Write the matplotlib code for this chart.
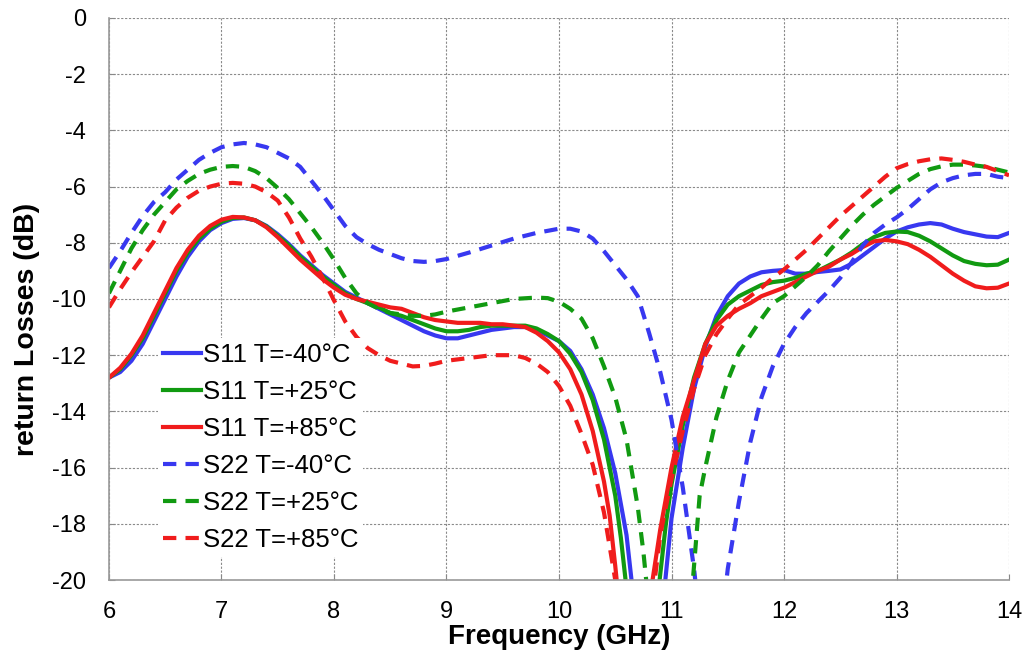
import numpy as np
import matplotlib.pyplot as plt
import matplotlib as mpl

mpl.rcParams['font.family'] = ['Liberation Sans', 'DejaVu Sans']
mpl.rcParams['axes.unicode_minus'] = False

## Data

f_s11_m40 = [6.0, 6.1, 6.2, 6.3, 6.4, 6.5, 6.6, 6.7, 6.8, 6.9, 7.0, 7.1, 7.2, 7.3, 7.4, 7.5,
             7.6, 7.7, 7.8, 7.9, 8.0, 8.1, 8.2, 8.3, 8.4, 8.5, 8.6, 8.7, 8.8, 8.9, 9.0, 9.1,
             9.2, 9.3, 9.4, 9.5, 9.6, 9.7, 9.8, 9.9, 10.0, 10.1, 10.2, 10.3, 10.4, 10.5, 10.6,
             10.65, 10.8, 10.92, 11.0, 11.1, 11.2, 11.3, 11.4, 11.5, 11.6, 11.7, 11.8, 11.9,
             12.0, 12.1, 12.2, 12.3, 12.4, 12.5, 12.6, 12.7, 12.8, 12.9, 13.0, 13.1, 13.2,
             13.3, 13.4, 13.5, 13.6, 13.7, 13.8, 13.9, 14.0]
s11_m40 = [-12.8, -12.6, -12.2, -11.6, -10.8, -10.0, -9.2, -8.5, -7.95, -7.55, -7.3, -7.15,
           -7.12, -7.2, -7.4, -7.7, -8.05, -8.45, -8.8, -9.15, -9.45, -9.75, -9.95, -10.15,
           -10.35, -10.55, -10.75, -10.95, -11.15, -11.3, -11.4, -11.4, -11.3, -11.2, -11.1,
           -11.05, -11.0, -11.0, -11.1, -11.3, -11.5, -11.85, -12.5, -13.4, -14.6, -16.2,
           -18.4, -20.2, -25.0, -21.0, -17.8, -15.3, -13.2, -11.7, -10.6, -9.9, -9.45, -9.2,
           -9.05, -9.0, -8.97, -9.1, -9.1, -9.04, -9.0, -8.95, -8.75, -8.45, -8.15, -7.85,
           -7.6, -7.45, -7.35, -7.3, -7.35, -7.5, -7.62, -7.7, -7.78, -7.8, -7.65]

f_s11_p25 = [6.0, 6.1, 6.2, 6.3, 6.4, 6.5, 6.6, 6.7, 6.8, 6.9, 7.0, 7.1, 7.2, 7.3, 7.4, 7.5,
             7.6, 7.7, 7.8, 7.9, 8.0, 8.1, 8.2, 8.3, 8.4, 8.5, 8.6, 8.7, 8.8, 8.9, 9.0, 9.1,
             9.2, 9.3, 9.4, 9.5, 9.6, 9.7, 9.8, 9.9, 10.0, 10.1, 10.2, 10.3, 10.4, 10.5, 10.55,
             10.6, 10.75, 10.88, 10.95, 11.0, 11.1, 11.2, 11.3, 11.4, 11.5, 11.6, 11.7, 11.8,
             11.9, 12.0, 12.1, 12.2, 12.3, 12.4, 12.5, 12.6, 12.7, 12.8, 12.9, 13.0, 13.1,
             13.2, 13.3, 13.4, 13.5, 13.6, 13.7, 13.8, 13.9, 14.0]
s11_p25 = [-12.8, -12.5, -12.0, -11.4, -10.6, -9.8, -9.0, -8.35, -7.85, -7.5, -7.25, -7.12,
           -7.1, -7.2, -7.42, -7.75, -8.1, -8.5, -8.85, -9.2, -9.5, -9.8, -10.0, -10.15,
           -10.3, -10.5, -10.6, -10.75, -10.9, -11.05, -11.15, -11.15, -11.1, -11.0, -10.95,
           -10.95, -10.95, -10.95, -11.05, -11.25, -11.5, -11.95, -12.6, -13.6, -15.0, -17.0,
           -18.5, -20.3, -25.0, -20.5, -18.0, -16.6, -14.5, -12.8, -11.6, -10.75, -10.2, -9.9,
           -9.7, -9.5, -9.4, -9.35, -9.25, -9.1, -9.0, -8.8, -8.6, -8.35, -8.05, -7.8, -7.65,
           -7.6, -7.62, -7.75, -7.95, -8.2, -8.45, -8.65, -8.75, -8.8, -8.78, -8.6]

f_s11_p85 = [6.0, 6.1, 6.2, 6.3, 6.4, 6.5, 6.6, 6.7, 6.8, 6.9, 7.0, 7.1, 7.2, 7.3, 7.4, 7.5,
             7.6, 7.7, 7.8, 7.9, 8.0, 8.1, 8.2, 8.3, 8.4, 8.5, 8.6, 8.7, 8.8, 8.9, 9.0, 9.1,
             9.2, 9.3, 9.4, 9.5, 9.6, 9.7, 9.8, 9.9, 10.0, 10.1, 10.2, 10.3, 10.4, 10.45, 10.5,
             10.55, 10.7, 10.82, 10.9, 11.0, 11.1, 11.2, 11.3, 11.4, 11.5, 11.6, 11.7, 11.8,
             11.9, 12.0, 12.1, 12.2, 12.3, 12.4, 12.5, 12.6, 12.7, 12.8, 12.9, 13.0, 13.1,
             13.2, 13.3, 13.4, 13.5, 13.6, 13.7, 13.8, 13.9, 14.0]
s11_p85 = [-12.8, -12.45, -11.95, -11.3, -10.5, -9.7, -8.9, -8.25, -7.75, -7.4, -7.18, -7.08,
           -7.1, -7.2, -7.45, -7.8, -8.2, -8.6, -8.95, -9.3, -9.6, -9.85, -10.0, -10.1, -10.2,
           -10.3, -10.35, -10.5, -10.65, -10.75, -10.8, -10.85, -10.85, -10.85, -10.9, -10.9,
           -10.95, -11.0, -11.2, -11.5, -11.9, -12.5, -13.4, -14.7, -16.5, -17.7, -19.5,
           -21.5, -25.0, -20.3, -18.2, -16.0, -14.2, -12.9, -11.6, -10.95, -10.6, -10.35,
           -10.15, -9.9, -9.75, -9.6, -9.4, -9.2, -9.0, -8.85, -8.6, -8.4, -8.15, -7.95, -7.9,
           -7.95, -8.05, -8.25, -8.5, -8.8, -9.1, -9.35, -9.55, -9.62, -9.6, -9.45]

f_s22_m40 = [6.0, 6.1, 6.2, 6.3, 6.4, 6.5, 6.6, 6.7, 6.8, 6.9, 7.0, 7.1, 7.2, 7.3, 7.4, 7.5,
             7.6, 7.7, 7.8, 7.9, 8.0, 8.1, 8.2, 8.3, 8.4, 8.5, 8.6, 8.7, 8.8, 8.9, 9.0, 9.2,
             9.4, 9.6, 9.8, 10.0, 10.1, 10.2, 10.3, 10.4, 10.5, 10.6, 10.7, 10.8, 10.9, 11.0,
             11.1, 11.2, 11.35, 11.5, 11.6, 11.7, 11.8, 11.9, 12.0, 12.1, 12.2, 12.3, 12.4,
             12.5, 12.6, 12.7, 12.8, 12.9, 13.0, 13.1, 13.2, 13.3, 13.4, 13.5, 13.6, 13.7,
             13.8, 13.9, 14.0]
s22_m40 = [-8.9, -8.3, -7.65, -7.05, -6.55, -6.2, -5.75, -5.4, -5.05, -4.8, -4.6, -4.5,
           -4.45, -4.5, -4.6, -4.8, -5.0, -5.3, -5.8, -6.3, -6.85, -7.4, -7.8, -8.05, -8.25,
           -8.4, -8.55, -8.65, -8.68, -8.65, -8.58, -8.35, -8.1, -7.85, -7.65, -7.5, -7.5,
           -7.6, -7.85, -8.3, -8.8, -9.3, -9.9, -11.2, -12.6, -14.3, -16.7, -19.6, -25.0,
           -19.6, -17.2, -15.1, -13.5, -12.4, -11.6, -11.0, -10.5, -10.1, -9.7, -9.25, -8.7,
           -8.1, -7.65, -7.35, -7.1, -6.8, -6.45, -6.1, -5.85, -5.7, -5.6, -5.55, -5.55,
           -5.65, -5.7]

f_s22_p25 = [6.0, 6.1, 6.2, 6.3, 6.4, 6.5, 6.6, 6.7, 6.8, 6.9, 7.0, 7.1, 7.2, 7.3, 7.4, 7.5,
             7.6, 7.7, 7.8, 7.9, 8.0, 8.1, 8.2, 8.3, 8.4, 8.5, 8.6, 8.7, 8.8, 8.9, 9.0, 9.2,
             9.4, 9.6, 9.8, 9.9, 10.0, 10.1, 10.2, 10.3, 10.4, 10.5, 10.6, 10.7, 10.75, 10.8,
             10.98, 11.18, 11.25, 11.3, 11.4, 11.5, 11.6, 11.7, 11.8, 11.9, 12.0, 12.1, 12.2,
             12.3, 12.4, 12.5, 12.6, 12.7, 12.8, 12.9, 13.0, 13.1, 13.2, 13.3, 13.4, 13.5,
             13.6, 13.7, 13.8, 13.9, 14.0]
s22_p25 = [-9.8, -9.0, -8.2, -7.55, -7.0, -6.55, -6.1, -5.8, -5.55, -5.4, -5.3, -5.27,
           -5.3, -5.45, -5.7, -6.05, -6.45, -6.95, -7.45, -8.0, -8.6, -9.25, -9.8, -10.15,
           -10.35, -10.5, -10.55, -10.6, -10.6, -10.55, -10.45, -10.3, -10.15, -10.0, -9.95,
           -9.97, -10.1, -10.35, -10.7, -11.4, -12.4, -13.5, -15.0, -17.4, -19.0, -21.0,
           -26.0, -20.5, -17.0, -16.0, -14.2, -12.9, -11.9, -11.3, -10.7, -10.15, -9.9,
           -9.55, -9.2, -8.8, -8.3, -7.85, -7.4, -7.0, -6.65, -6.35, -6.05, -5.8, -5.55,
           -5.38, -5.28, -5.22, -5.22, -5.25, -5.3, -5.4, -5.5]

f_s22_p85 = [6.0, 6.1, 6.2, 6.3, 6.4, 6.5, 6.6, 6.7, 6.8, 6.9, 7.0, 7.1, 7.2, 7.3, 7.4, 7.5,
             7.6, 7.7, 7.8, 7.9, 8.0, 8.1, 8.2, 8.3, 8.4, 8.5, 8.6, 8.7, 8.8, 8.9, 9.0, 9.2,
             9.4, 9.6, 9.7, 9.8, 9.9, 10.0, 10.1, 10.2, 10.3, 10.4, 10.5, 10.55, 10.7, 10.82,
             10.9, 11.0, 11.1, 11.2, 11.3, 11.4, 11.5, 11.6, 11.7, 11.8, 11.9, 12.0, 12.1,
             12.2, 12.3, 12.4, 12.5, 12.6, 12.7, 12.8, 12.9, 13.0, 13.1, 13.2, 13.3, 13.4,
             13.5, 13.6, 13.7, 13.8, 13.9, 14.0]
s22_p85 = [-10.3, -9.65, -9.05, -8.5, -7.95, -7.2, -6.75, -6.4, -6.15, -6.0, -5.9, -5.87,
           -5.9, -6.0, -6.2, -6.5, -7.1, -7.85, -8.5, -9.25, -10.05, -10.8, -11.35, -11.75,
           -12.0, -12.2, -12.3, -12.4, -12.38, -12.3, -12.2, -12.1, -12.0, -12.0, -12.1,
           -12.3, -12.6, -13.1, -13.8, -14.8, -15.9, -17.6, -20.0, -22.0, -26.0, -21.0,
           -18.4, -16.4, -14.7, -13.2, -12.0, -11.25, -10.7, -10.2, -9.9, -9.6, -9.25, -8.95,
           -8.6, -8.25, -7.85, -7.45, -7.05, -6.7, -6.35, -6.0, -5.65, -5.35, -5.2, -5.1,
           -5.03, -5.0, -5.05, -5.12, -5.22, -5.3, -5.45, -5.6]

labels = ['S11 T=-40°C', 'S11 T=+25°C', 'S11 T=+85°C',
          'S22 T=-40°C', 'S22 T=+25°C', 'S22 T=+85°C']
xticks = [6, 7, 8, 9, 10, 11, 12, 13, 14]
yticks = [0, -2, -4, -6, -8, -10, -12, -14, -16, -18, -20]

blue, green, red = '#3838f0', '#119a11', '#f01c1c'
dash = (0, (3.2, 2.2))

series = [
    (f_s11_m40, s11_m40, blue, '-'),
    (f_s11_p25, s11_p25, green, '-'),
    (f_s11_p85, s11_p85, red, '-'),
    (f_s22_m40, s22_m40, blue, dash),
    (f_s22_p25, s22_p25, green, dash),
    (f_s22_p85, s22_p85, red, dash),
]

## Plotting

fig = plt.figure(figsize=(10.24, 6.64), dpi=100)
ax = fig.add_axes([0.1064, 0.1265, 0.879, 0.8465])

for (f, s, c, ls), lab in zip(series, labels):
    ax.plot(f, s, color=c, linestyle=ls, lw=3.0, label=lab)

ax.set_xlim(6, 14)
ax.set_ylim(-20, 0)
ax.set_xticks(xticks)
ax.set_xticklabels([str(t) for t in xticks])
ax.set_yticks(yticks)
ax.set_yticklabels([str(t) for t in yticks])
ax.tick_params(axis='x', labelsize=17, pad=15, length=4, direction='in', color='#888888')
ax.tick_params(axis='y', labelsize=17, pad=16.5, length=4, direction='in', color='#888888')

ax.grid(True, color='#8a8a8a', linestyle=(0, (2, 1.5)), linewidth=0.8)
ax.set_axisbelow(True)
for side in ['top', 'right']:
    ax.spines[side].set_visible(False)
for side in ['left', 'bottom']:
    ax.spines[side].set_color('#9a9a9a')
    ax.spines[side].set_linewidth(1.2)

ax.set_xlabel('Frequency (GHz)', fontsize=20, fontweight='bold')
ax.set_ylabel('return Losses (dB)', fontsize=20.5, fontweight='bold')
ax.xaxis.set_label_coords(0.5, -0.079)
ax.yaxis.set_label_coords(-0.077, 0.445)

leg = ax.legend(loc='upper left', bbox_to_anchor=(0.054, 0.43), fontsize=18.5,
                frameon=True, facecolor='white', edgecolor='none', framealpha=1,
                handlelength=1.5, handletextpad=0.05, borderpad=0.2,
                borderaxespad=0, labelspacing=0.5, fancybox=False)
leg.set_zorder(5)

fig.savefig('out.png', dpi=100)
